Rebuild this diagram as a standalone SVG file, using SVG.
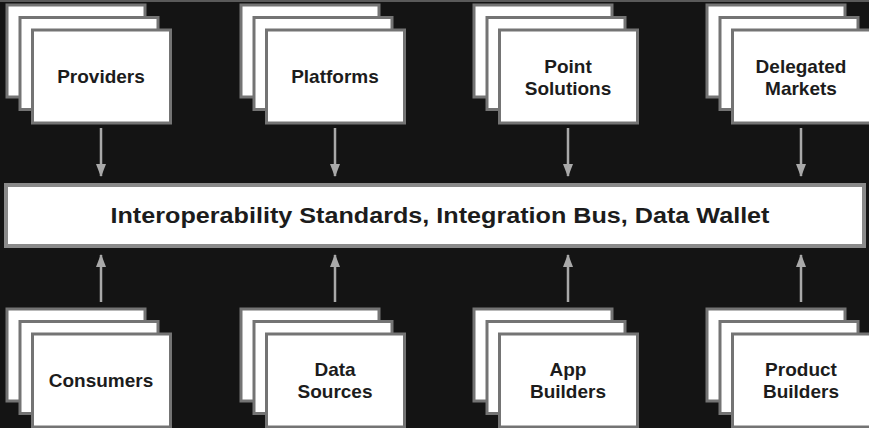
<svg xmlns="http://www.w3.org/2000/svg" width="869" height="428" viewBox="0 0 869 428">
  <defs>
    <style>
      .card { fill: #ffffff; stroke: #747474; stroke-width: 3; }
      .bus { fill: #ffffff; stroke: #8a8a8a; stroke-width: 4; }
      .label { font-family: "Liberation Sans", Arial, sans-serif; font-weight: bold; font-size: 19px; fill: #1c1c1c; text-anchor: middle; }
      .buslabel { font-family: "Liberation Sans", Arial, sans-serif; font-weight: bold; font-size: 22px; fill: #1c1c1c; text-anchor: middle; }
      .conn { stroke: #a9a9a9; stroke-width: 2.5; fill: none; marker-end: url(#head); }
    </style>
    <marker id="head" viewBox="0 0 13 10" refX="12" refY="5" markerWidth="13" markerHeight="10" markerUnits="userSpaceOnUse" orient="auto">
      <path d="M0,0 L13,5 L0,10 Z" fill="#a9a9a9"/>
    </marker>
    <!-- three stacked sheets, top-left at the back sheet -->
    <g id="stack">
      <rect class="card" x="0" y="0" width="138" height="92"/>
      <rect class="card" x="13" y="12.5" width="138" height="92"/>
      <rect class="card" x="25.5" y="25" width="138" height="93"/>
    </g>
  </defs>

  <rect x="0" y="0" width="869" height="428" fill="#141414"/>
  <rect x="0" y="0" width="869" height="2" fill="#5a5a5a"/>

  <!-- top row -->
  <g id="providers">
    <use href="#stack" x="7" y="5"/>
    <text class="label" x="101" y="83">Providers</text>
  </g>
  <g id="platforms">
    <use href="#stack" x="241" y="5"/>
    <text class="label" x="335" y="83">Platforms</text>
  </g>
  <g id="point-solutions">
    <use href="#stack" x="474" y="5"/>
    <text class="label" x="568" y="73">Point</text>
    <text class="label" x="568" y="95">Solutions</text>
  </g>
  <g id="delegated-markets">
    <use href="#stack" x="707" y="5"/>
    <text class="label" x="801" y="73">Delegated</text>
    <text class="label" x="801" y="95">Markets</text>
  </g>

  <!-- central bus -->
  <g id="bus">
    <rect class="bus" x="6" y="185" width="858" height="61"/>
    <text class="buslabel" x="440" y="223" textLength="659" lengthAdjust="spacingAndGlyphs">Interoperability Standards, Integration Bus, Data Wallet</text>
  </g>

  <!-- bottom row -->
  <g id="consumers">
    <use href="#stack" x="7" y="309"/>
    <text class="label" x="101" y="387">Consumers</text>
  </g>
  <g id="data-sources">
    <use href="#stack" x="241" y="309"/>
    <text class="label" x="335" y="376">Data</text>
    <text class="label" x="335" y="398">Sources</text>
  </g>
  <g id="app-builders">
    <use href="#stack" x="474" y="309"/>
    <text class="label" x="568" y="376">App</text>
    <text class="label" x="568" y="398">Builders</text>
  </g>
  <g id="product-builders">
    <use href="#stack" x="707" y="309"/>
    <text class="label" x="801" y="376">Product</text>
    <text class="label" x="801" y="398">Builders</text>
  </g>

  <!-- connectors -->
  <g id="connectors">
    <line class="conn" x1="101" y1="128" x2="101" y2="176"/>
    <line class="conn" x1="335" y1="128" x2="335" y2="176"/>
    <line class="conn" x1="568" y1="128" x2="568" y2="176"/>
    <line class="conn" x1="801" y1="128" x2="801" y2="176"/>
    <line class="conn" x1="101" y1="302" x2="101" y2="255"/>
    <line class="conn" x1="335" y1="302" x2="335" y2="255"/>
    <line class="conn" x1="568" y1="302" x2="568" y2="255"/>
    <line class="conn" x1="801" y1="302" x2="801" y2="255"/>
  </g>
</svg>
